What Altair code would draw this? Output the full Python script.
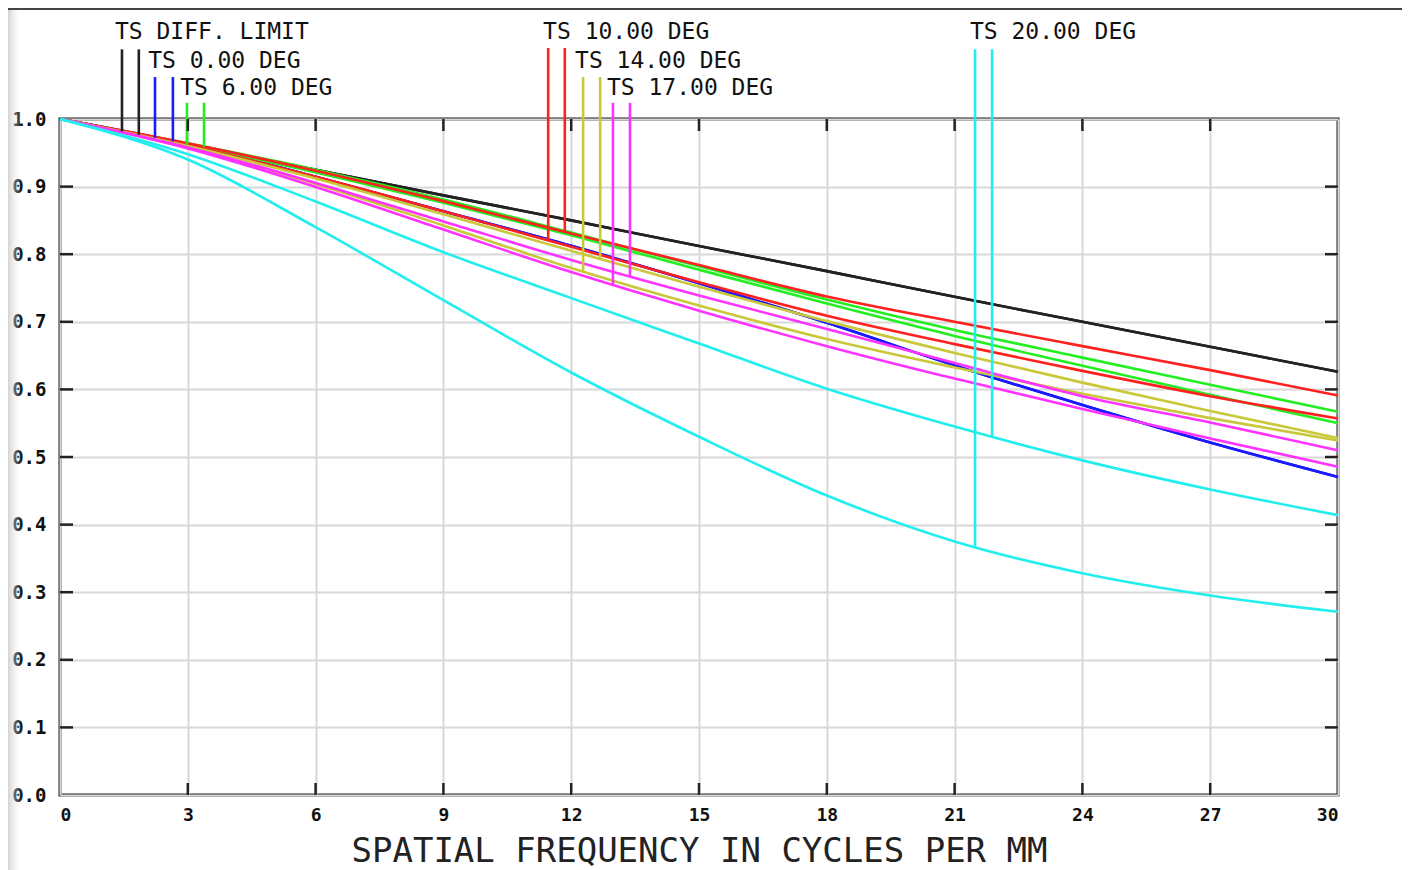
import altair as alt
import pandas as pd
import numpy as np

# ---------------- data ----------------
freq = [0, 3, 6, 9, 12, 15, 18, 21, 24, 27, 30]

diff_t = [1.0, 0.962, 0.925, 0.887, 0.850, 0.812, 0.775, 0.737, 0.700, 0.663, 0.626]
diff_s = [1.0, 0.962, 0.925, 0.887, 0.850, 0.812, 0.775, 0.737, 0.700, 0.663, 0.626]
deg0_t = [1.0, 0.9625, 0.9145, 0.8635, 0.8125, 0.757, 0.6985, 0.6355, 0.577, 0.5215, 0.4705]
deg0_s = [1.0, 0.9625, 0.9145, 0.8635, 0.8125, 0.757, 0.6985, 0.6355, 0.577, 0.5215, 0.4705]
deg6_t = [1.0, 0.962, 0.921, 0.876, 0.828, 0.777, 0.727, 0.679, 0.635, 0.592, 0.550]
deg6_s = [1.0, 0.964, 0.925, 0.881, 0.832, 0.782, 0.733, 0.688, 0.647, 0.607, 0.567]
deg10_t = [1.0, 0.961, 0.9145, 0.8635, 0.811, 0.7585, 0.709, 0.667, 0.6274, 0.590, 0.557]
deg10_s = [1.0, 0.964, 0.9235, 0.8785, 0.8305, 0.784, 0.7375, 0.700, 0.664, 0.6285, 0.591]
deg14_t = [1.0, 0.958, 0.904, 0.8425, 0.7795, 0.724, 0.6745, 0.6325, 0.5935, 0.5575, 0.5245]
deg14_s = [1.0, 0.960, 0.912, 0.859, 0.805, 0.752, 0.701, 0.654, 0.610, 0.568, 0.528]
deg17_t = [1.0, 0.9565, 0.8995, 0.8365, 0.7735, 0.7165, 0.664, 0.616, 0.571, 0.5275, 0.4855]
deg17_s = [1.0, 0.958, 0.9055, 0.8485, 0.7915, 0.739, 0.6895, 0.639, 0.590, 0.551, 0.510]
deg20_t = [1.0, 0.940, 0.840, 0.732, 0.625, 0.530, 0.443, 0.375, 0.328, 0.295, 0.271]
deg20_s = [1.0, 0.948, 0.878, 0.803, 0.735, 0.668, 0.601, 0.545, 0.495, 0.452, 0.414]

field_labels = ["TS DIFF. LIMIT", "TS 0.00 DEG", "TS 6.00 DEG", "TS 10.00 DEG",
                "TS 14.00 DEG", "TS 17.00 DEG", "TS 20.00 DEG"]
field_colors = ["#222222", "#1a1aff", "#22ee22", "#ff2020", "#c8c83a", "#ff33ff", "#22eeee"]
marker_freq_t = [1.455, 2.23, 2.98, 11.46, 12.28, 12.98, 21.48]
marker_freq_s = [1.85, 2.65, 3.38, 11.85, 12.68, 13.38, 21.88]
marker_top = [1.103, 1.062, 1.024, 1.105, 1.062, 1.024, 1.103]
label_freq = [1.29, 2.07, 2.82, 11.34, 12.09, 12.84, 21.36]
label_mtf = [1.119, 1.076, 1.036, 1.119, 1.076, 1.036, 1.119]

x_ticks = [0, 3, 6, 9, 12, 15, 18, 21, 24, 27, 30]
y_ticks = [0.0, 0.1, 0.2, 0.3, 0.4, 0.5, 0.6, 0.7, 0.8, 0.9, 1.0]

# ---------------- build tables ----------------
curves_t = [diff_t, deg0_t, deg6_t, deg10_t, deg14_t, deg17_t, deg20_t]
curves_s = [diff_s, deg0_s, deg6_s, deg10_s, deg14_s, deg17_s, deg20_s]

rows = []
names, colors = [], []
for lab, col, ct, cs in zip(field_labels, field_colors, curves_t, curves_s):
    for tag, vals in (("T", ct), ("S", cs)):
        nm = lab + " " + tag
        names.append(nm)
        colors.append(col)
        for f, v in zip(freq, vals):
            rows.append({"freq": f, "mtf": v, "series": nm})
df = pd.DataFrame(rows)

mrows = []
for i in range(len(field_labels)):
    for mf, cv in ((marker_freq_t[i], curves_t[i]), (marker_freq_s[i], curves_s[i])):
        mrows.append({"freq": mf, "top": marker_top[i],
                      "bottom": float(np.interp(mf, freq, cv)),
                      "color": field_colors[i]})
mdf = pd.DataFrame(mrows)

ldf = pd.DataFrame({"freq": label_freq, "mtf": label_mtf, "text": field_labels})
xt = pd.DataFrame({"freq": x_ticks[1:-1]})
yt = pd.DataFrame({"mtf": y_ticks[1:-1]})

W, H = 1278, 676
x_scale = alt.Scale(domain=[0, 30], nice=False, zero=False)
y_scale = alt.Scale(domain=[0, 1], nice=False, zero=False)
MONO = "DejaVu Sans Mono"

x_axis = alt.Axis(values=x_ticks, title="SPATIAL FREQUENCY IN CYCLES PER MM",
                  labelFont=MONO, labelFontSize=18, labelFontWeight="bold",
                  labelColor="#111", labelPadding=11, tickSize=0, domain=False,
                  grid=True, gridColor="#d8d8d8", gridWidth=2,
                  titleFont=MONO, titleFontSize=34, titleFontWeight="normal",
                  titleColor="#222", titlePadding=10)
y_axis = alt.Axis(values=y_ticks, format=".1f", title=None,
                  labelFont=MONO, labelFontSize=19, labelFontWeight="bold",
                  labelColor="#111", labelPadding=14, tickSize=0, domain=False,
                  grid=True, gridColor="#d8d8d8", gridWidth=2)

lines = alt.Chart(df).mark_line(strokeWidth=2.6, interpolate="monotone").encode(
    x=alt.X("freq:Q", scale=x_scale, axis=x_axis),
    y=alt.Y("mtf:Q", scale=y_scale, axis=y_axis),
    color=alt.Color("series:N", scale=alt.Scale(domain=names, range=colors), legend=None),
)

markers = alt.Chart(mdf).mark_rule(strokeWidth=2.6).encode(
    x=alt.X("freq:Q", scale=x_scale),
    y=alt.Y("top:Q", scale=y_scale),
    y2="bottom:Q",
    color=alt.Color("color:N", scale=None),
)

labels = alt.Chart(ldf).mark_text(align="left", baseline="alphabetic", font=MONO,
                                  fontSize=23, color="#111").encode(
    x=alt.X("freq:Q", scale=x_scale),
    y=alt.Y("mtf:Q", scale=y_scale),
    text="text:N",
)

tick_style = dict(color="#222", strokeWidth=2.5)
bottom_ticks = alt.Chart(xt).mark_rule(**tick_style).encode(
    x=alt.X("freq:Q", scale=x_scale), y=alt.value(H), y2=alt.value(H - 12))
top_ticks = alt.Chart(xt).mark_rule(**tick_style).encode(
    x=alt.X("freq:Q", scale=x_scale), y=alt.value(0), y2=alt.value(12))
left_ticks = alt.Chart(yt).mark_rule(**tick_style).encode(
    y=alt.Y("mtf:Q", scale=y_scale), x=alt.value(0), x2=alt.value(13))
right_ticks = alt.Chart(yt).mark_rule(**tick_style).encode(
    y=alt.Y("mtf:Q", scale=y_scale), x=alt.value(W), x2=alt.value(W - 13))

top_line = alt.Chart(xt.head(1)).mark_rule(color="#444", strokeWidth=2).encode(
    x=alt.value(-52), x2=alt.value(W + 64), y=alt.value(-110))
shade = alt.Chart(xt.head(1)).mark_rect(
    color=alt.LinearGradient(gradient="linear",
                             stops=[alt.GradientStop(color="rgba(200,200,200,0.8)", offset=0),
                                    alt.GradientStop(color="rgba(255,255,255,0)", offset=1)],
                             x1=0, x2=1, y1=0, y2=0)).encode(
    x=alt.value(-52), x2=alt.value(-38), y=alt.value(-111), y2=alt.value(H + 80))

chart = alt.layer(shade, top_line, lines, markers, labels,
                  bottom_ticks, top_ticks, left_ticks, right_ticks).properties(
    width=W, height=H,
    autosize=alt.AutoSizeParams(type="none"),
    padding={"left": 52, "top": 111, "right": 64, "bottom": 75},
    background="white",
).configure_view(stroke="#222", strokeWidth=3)

chart.save("out.html", embed_options={"renderer": "svg", "actions": False})
